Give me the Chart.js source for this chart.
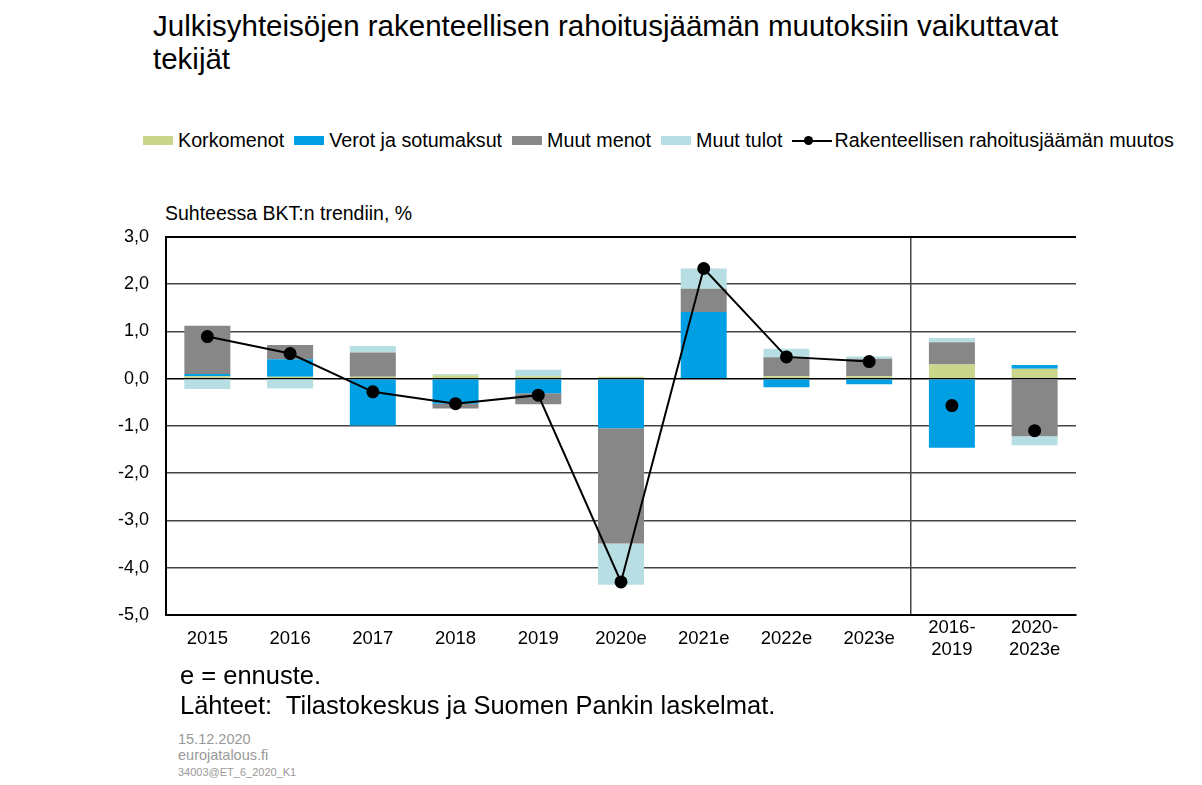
<!DOCTYPE html>
<html>
<head>
<meta charset="utf-8">
<script src="https://cdn.jsdelivr.net/npm/chart.js@4/dist/chart.umd.min.js"></script>
<style>
  body { margin: 0; background: #fff; font-family: "Liberation Sans", Arial, sans-serif; }
  #page { position: relative; width: 1202px; height: 785px; overflow: hidden; }
  .abs { position: absolute; white-space: nowrap; }
  #title { left: 153px; top: 9px; font-size: 29.5px; line-height: 33px; color: #000; }
  #legend { left: 143px; top: 129px; font-size: 19.7px; color: #000; display: flex; align-items: center; }
  #legend .item { display: flex; align-items: center; margin-right: 10px; }
  #legend .box { width: 30px; height: 9px; margin-right: 5px; }
  #legend .ln { position: relative; width: 40px; height: 12px; margin-right: 2px; }
  #legend .ln:before { content: ""; position: absolute; left: 0; right: 0; top: 5px; height: 2px; background: #000; }
  #legend .ln:after { content: ""; position: absolute; left: 12px; top: 1.5px; width: 9px; height: 9px; border-radius: 50%; background: #000; }
  #unit { left: 165px; top: 202px; font-size: 19.5px; }
  #note { left: 180px; top: 660px; font-size: 25.5px; line-height: 30px; }
  #src { left: 178px; top: 731px; font-size: 14.5px; line-height: 16px; color: #999; }
  #chartbox { position: absolute; left: 0; top: 209px; width: 1202px; height: 471px; }
</style>
</head>
<body>
<div id="page">
  <div id="title" class="abs">Julkisyhteisöjen rakenteellisen rahoitusjäämän muutoksiin vaikuttavat<br>tekijät</div>
  <div id="legend" class="abs"></div>
  <div id="unit" class="abs">Suhteessa BKT:n trendiin, %</div>
  <div id="chartbox"><canvas id="chart"></canvas></div>
  <div id="note" class="abs">e = ennuste.<br>Lähteet:&nbsp; Tilastokeskus ja Suomen Pankin laskelmat.</div>
  <div id="src" class="abs">15.12.2020<br>eurojatalous.fi<br><span style="font-size:11px">34003@ET_6_2020_K1</span></div>
</div>
<script>
var labels = ["2015", "2016", "2017", "2018", "2019", "2020e", "2021e", "2022e", "2023e", ["2016-", "2019"], ["2020-", "2023e"]];
var korkomenot = [0.05, 0.04, 0.04, 0.07, 0.05, 0.04, 0.0, 0.05, 0.05, 0.30, 0.21];
var verot = [0.05, 0.37, -0.99, -0.53, -0.31, -1.05, 1.41, -0.18, -0.12, -1.46, 0.08];
var muut_menot = [1.02, 0.30, 0.51, -0.10, -0.23, -2.44, 0.49, 0.40, 0.37, 0.47, -1.22];
var muut_tulot = [-0.22, -0.21, 0.14, 0.03, 0.14, -0.87, 0.43, 0.18, 0.05, 0.09, -0.19];
var muutos = [0.89, 0.53, -0.28, -0.53, -0.35, -4.30, 2.33, 0.46, 0.36, -0.57, -1.10];

var colors = {
  korko: "#c9d68b",
  verot: "#009fe3",
  menot: "#878787",
  tulot: "#b7dfe3",
};

// legend (html)
var legendItems = [
  ["Korkomenot", colors.korko],
  ["Verot ja sotumaksut", colors.verot],
  ["Muut menot", colors.menot],
  ["Muut tulot", colors.tulot],
];
var legendEl = document.getElementById("legend");
legendItems.forEach(function (it) {
  var d = document.createElement("div");
  d.className = "item";
  d.innerHTML = '<span class="box" style="background:' + it[1] + '"></span>' + it[0];
  legendEl.appendChild(d);
});
var li = document.createElement("div");
li.className = "item";
li.innerHTML = '<span class="ln"></span>Rakenteellisen rahoitusjäämän muutos';
legendEl.appendChild(li);

function bar(label, data, color) {
  return {
    type: "bar",
    label: label,
    data: data,
    backgroundColor: color,
    borderWidth: 0,
    stack: "a",
    order: 1,
    barPercentage: 0.556,
    categoryPercentage: 1.0,
  };
}

var ctx = document.getElementById("chart").getContext("2d");
var myChart = new Chart(ctx, {
  data: {
    labels: labels,
    datasets: [
      {
        type: "line",
        label: "Rakenteellisen rahoitusjäämän muutos",
        data: muutos,
        borderColor: "#000",
        backgroundColor: "#000",
        borderWidth: 2,
        pointRadius: 5.5,
        pointHoverRadius: 5.5,
        stack: "line",
        order: 0,
        segment: {
          borderColor: function (c) {
            return c.p0DataIndex >= 8 ? "rgba(0,0,0,0)" : "#000";
          },
        },
      },
      bar("Korkomenot", korkomenot, colors.korko),
      bar("Verot ja sotumaksut", verot, colors.verot),
      bar("Muut menot", muut_menot, colors.menot),
      bar("Muut tulot", muut_tulot, colors.tulot),
    ],
  },
  options: {
    responsive: true,
    maintainAspectRatio: false,
    animation: false,
    layout: { padding: { left: 100, right: 126, top: 16, bottom: 0 } },
    plugins: {
      legend: { display: false },
      tooltip: { enabled: false },
    },
    scales: {
      x: {
        stacked: true,
        grid: {
          offset: true,
          drawTicks: false,
          lineWidth: function (c) {
            return c.index === 11 ? 2 : 1.5;
          },
          color: function (c) {
            if (c.index === 9) return "#444";
            if (c.index === 11) return "#000";
            return "rgba(0,0,0,0)";
          },
        },
        border: { color: "#000", width: 2 },
        ticks: {
          color: "#000",
          padding: 13,
          maxRotation: 0,
          autoSkip: false,
          crossAlign: "center",
          font: { family: "Liberation Sans", size: 18.5, lineHeight: 1.2 },
        },
        afterFit: function (s) {
          s.height = 65;
        },
      },
      y: {
        stacked: true,
        min: -5,
        max: 3,
        grid: {
          drawTicks: false,
          lineWidth: function (c) {
            return c.tick.value === 3 ? 2 : 1.5;
          },
          color: function (c) {
            if (c.tick.value === 0 || c.tick.value === 3) return "#000";
            return "#444";
          },
        },
        border: { color: "#000", width: 2 },
        ticks: {
          stepSize: 1,
          color: "#000",
          padding: 17,
          font: { family: "Liberation Sans", size: 18 },
          callback: function (v) {
            return v.toFixed(1).replace(".", ",");
          },
        },
        afterFit: function (s) {
          s.width = 66;
        },
      },
    },
  },
});
</script>
</body>
</html>
